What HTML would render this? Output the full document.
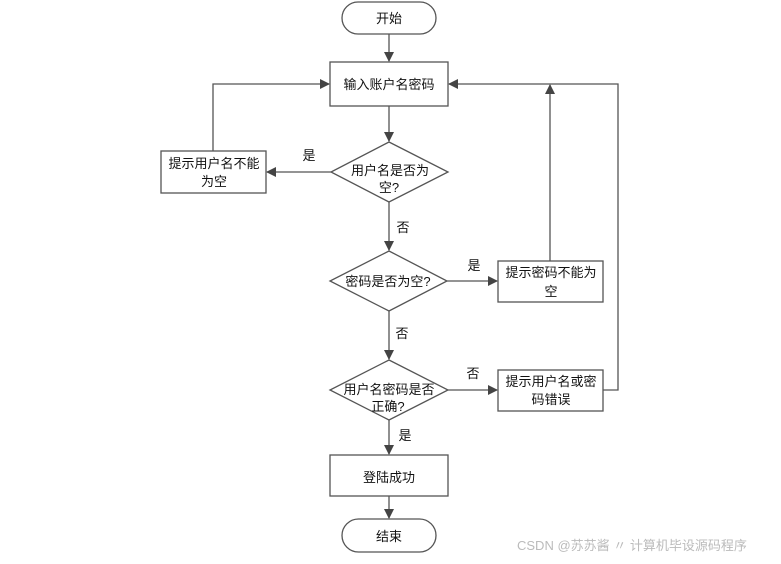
<!DOCTYPE html>
<html><head><meta charset="utf-8"><style>
body{margin:0;background:#fff;width:781px;height:559px;overflow:hidden}
text{font-family:"Liberation Sans","Noto Sans CJK SC",sans-serif;font-size:13px;fill:#111}
</style></head><body>
<svg width="781" height="559" viewBox="0 0 781 559">
<defs><marker id="a" markerWidth="10" markerHeight="10" refX="9" refY="5" orient="auto" markerUnits="userSpaceOnUse"><path d="M0,0 L10,5 L0,10 z" fill="#444"/></marker></defs>
<g fill="none" stroke="#555" stroke-width="1.3">
<rect x="342" y="2" width="94" height="32" rx="16" fill="#fff"/>
<rect x="330" y="62" width="118" height="44" fill="#fff"/>
<polygon points="389,142 448,172 389,202 331,172" fill="#fff"/>
<rect x="161" y="151" width="105" height="42" fill="#fff"/>
<polygon points="389,251 447,281 389,311 330,281" fill="#fff"/>
<rect x="498" y="261" width="105" height="41" fill="#fff"/>
<polygon points="389,360 448,390 389,420 330,390" fill="#fff"/>
<rect x="498" y="370" width="105" height="41" fill="#fff"/>
<rect x="330" y="455" width="118" height="41" fill="#fff"/>
<rect x="342" y="519" width="94" height="33" rx="16.5" fill="#fff"/>
<line x1="389" y1="34" x2="389" y2="61" marker-end="url(#a)"/>
<line x1="389" y1="106" x2="389" y2="141" marker-end="url(#a)"/>
<line x1="331" y1="172" x2="267" y2="172" marker-end="url(#a)"/>
<polyline points="213,151 213,84 329,84" marker-end="url(#a)"/>
<line x1="389" y1="202" x2="389" y2="250" marker-end="url(#a)"/>
<line x1="447" y1="281" x2="497" y2="281" marker-end="url(#a)"/>
<line x1="550" y1="261" x2="550" y2="85" marker-end="url(#a)"/>
<line x1="389" y1="311" x2="389" y2="359" marker-end="url(#a)"/>
<line x1="448" y1="390" x2="497" y2="390" marker-end="url(#a)"/>
<polyline points="603,390 618,390 618,84 449,84" marker-end="url(#a)"/>
<line x1="389" y1="420" x2="389" y2="454" marker-end="url(#a)"/>
<line x1="389" y1="496" x2="389" y2="518" marker-end="url(#a)"/>
</g>
<g text-anchor="middle">
<text x="389" y="23">开始</text>
<text x="389" y="89">输入账户名密码</text>
<text x="390" y="175">用户名是否为</text>
<text x="389" y="192">空?</text>
<text x="214" y="168">提示用户名不能</text>
<text x="214" y="186">为空</text>
<text x="388" y="286">密码是否为空?</text>
<text x="551" y="277">提示密码不能为</text>
<text x="551" y="296">空</text>
<text x="389" y="394">用户名密码是否</text>
<text x="388" y="411">正确?</text>
<text x="551" y="386">提示用户名或密</text>
<text x="551" y="404">码错误</text>
<text x="389" y="482">登陆成功</text>
<text x="389" y="541">结束</text>
<text x="309" y="160">是</text>
<text x="403" y="232">否</text>
<text x="474" y="270">是</text>
<text x="402" y="338">否</text>
<text x="473" y="378">否</text>
<text x="405" y="440">是</text>
</g>
<text x="517" y="550" style="fill:#bbb;font-size:13px">CSDN @苏苏酱 〃 计算机毕设源码程序</text>
</svg>
</body></html>
